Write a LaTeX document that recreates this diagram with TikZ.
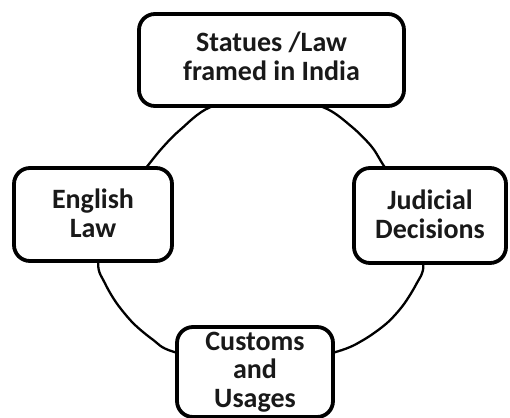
\documentclass[tikz,border=0pt]{standalone}
\usepackage{fontspec}
\setmainfont{Carlito}
\begin{document}
\begin{tikzpicture}[x=1pt,y=-1pt,
  sourcebox/.style={draw=black, fill=white, line width=3.8pt, rounded corners=16pt,
    align=center, inner sep=0pt, text=black!90,
    font=\fontsize{28}{28.8}\selectfont\bfseries},
  ring/.style={draw=black, line width=2.3pt}]
\useasboundingbox (0,0) rectangle (510,417);
% ring linking the four sources of law
\draw[ring] plot[smooth cycle] coordinates {
  (210,107.3) (267,95) (323.3,107.3) (351.7,126.7) (371.7,146.7) (383.3,165)
  (415,215) (423.3,265) (416.7,283.3) (403.3,305) (386.7,323.3) (363.3,340)
  (336.7,351.7) (255,372) (173.3,351.7) (153.3,340) (133.3,323.3) (116.7,303.3)
  (105,283.3) (98.3,263.3) (110,215) (148.3,165) (163.3,146.7) (180,130)};
% the four sources
\node[sourcebox, minimum width=265pt, minimum height=92pt, text depth=8pt] (statute) at (271.5,60)
  {Statues /Law\\framed in India};
\node[sourcebox, minimum width=158pt, minimum height=93pt, text depth=3pt] (english) at (93,214.5)
  {English\\Law};
\node[sourcebox, minimum width=152pt, minimum height=95pt, text depth=3pt] (judicial) at (430,215.5)
  {Judicial\\Decisions};
\node[sourcebox, minimum width=156pt, minimum height=90pt] (customs) at (255,372)
  {Customs\\and\\Usages};
\end{tikzpicture}
\end{document}
